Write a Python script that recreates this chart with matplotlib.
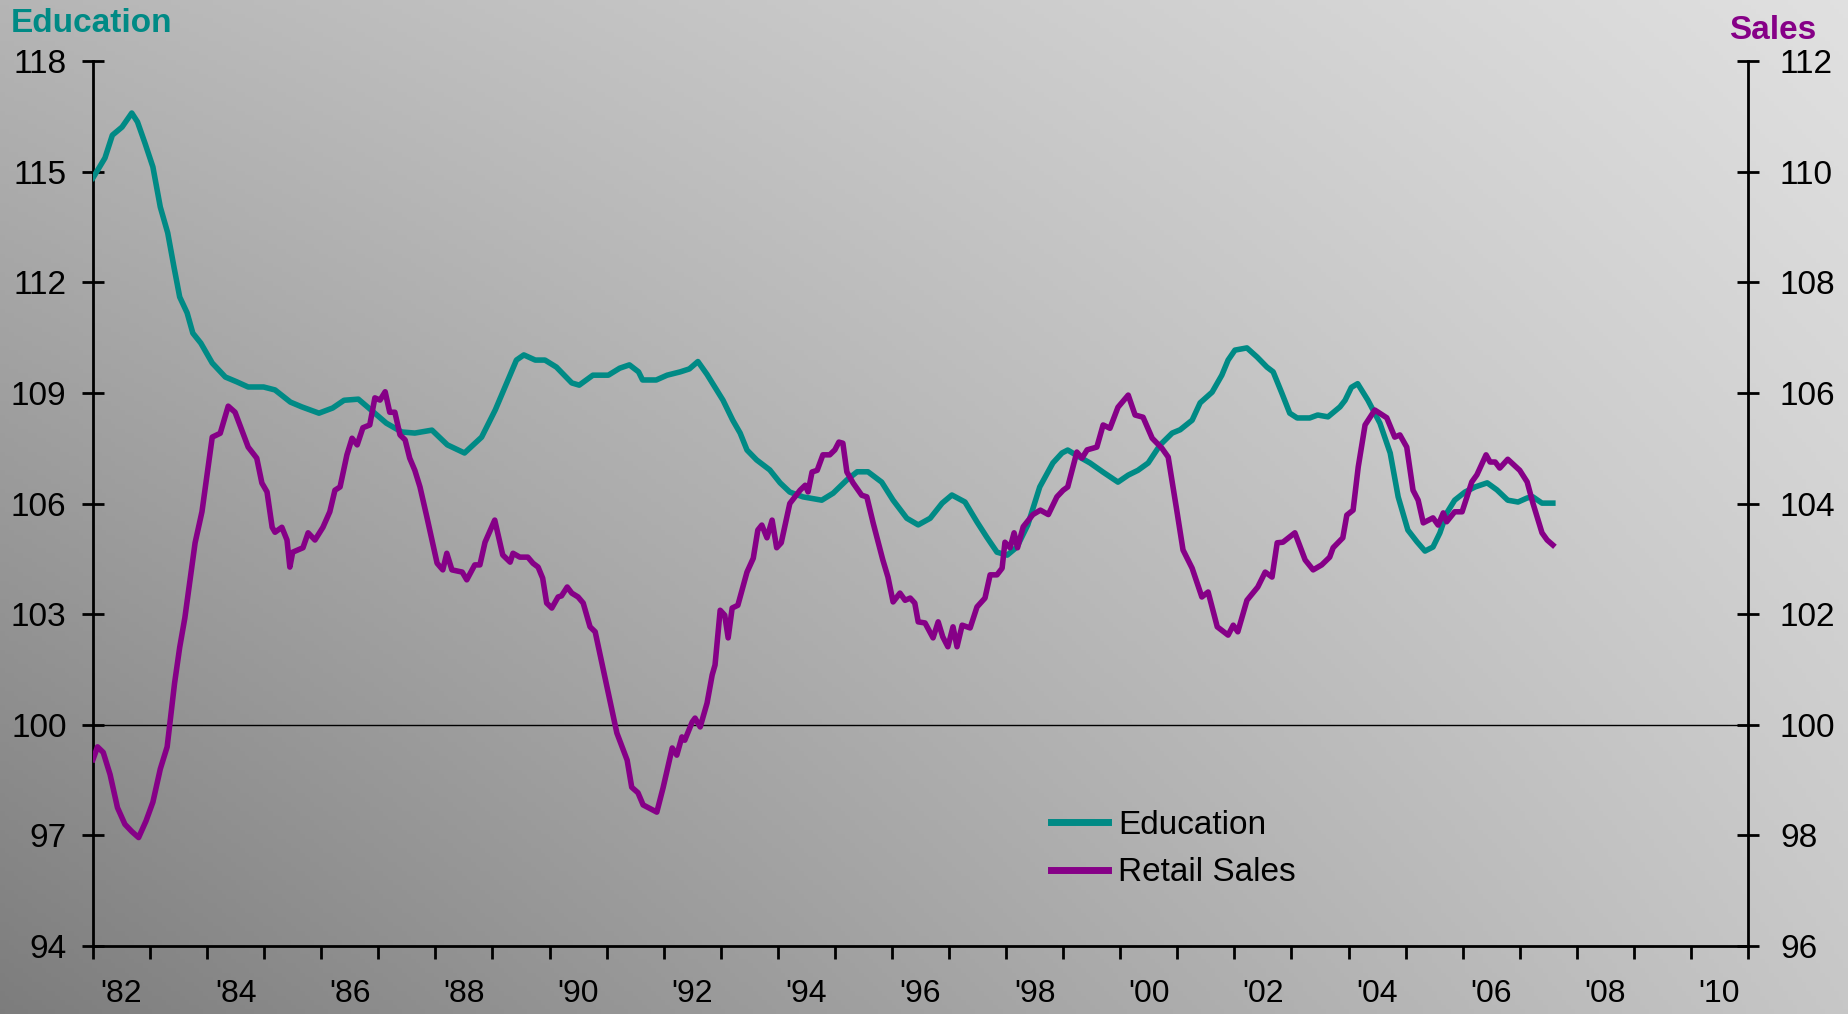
import numpy as np
import matplotlib.pyplot as plt

# Education index (left axis): decimal year, index value
edu_x = [1982.0, 1982.21, 1982.34, 1982.51, 1982.68, 1982.78, 1982.91, 1983.05, 1983.18, 1983.31,
         1983.42, 1983.52, 1983.65, 1983.75, 1983.89, 1984.09, 1984.32, 1984.52, 1984.72, 1984.99,
         1985.19, 1985.46, 1985.66, 1985.96, 1986.2, 1986.4, 1986.65, 1986.87, 1987.14, 1987.41,
         1987.64, 1987.94, 1988.21, 1988.51, 1988.81, 1989.05, 1989.22, 1989.42, 1989.55, 1989.75,
         1989.92, 1990.12, 1990.39, 1990.52, 1990.76, 1991.03, 1991.23, 1991.4, 1991.56, 1991.63,
         1991.87, 1992.06, 1992.29, 1992.45, 1992.6, 1992.76, 1993.04, 1993.21, 1993.34, 1993.46,
         1993.63, 1993.86, 1994.04, 1994.21, 1994.44, 1994.77, 1994.97, 1995.21, 1995.39, 1995.58,
         1995.82, 1996.02, 1996.26, 1996.46, 1996.67, 1996.88, 1997.05, 1997.28, 1997.49, 1997.66,
         1997.84, 1998.02, 1998.19, 1998.38, 1998.59, 1998.82, 1998.98, 1999.08, 1999.24, 1999.47,
         1999.7, 1999.96, 2000.14, 2000.31, 2000.49, 2000.7, 2000.91, 2001.05, 2001.26, 2001.4,
         2001.61, 2001.78, 2001.89, 2002.01, 2002.22, 2002.4, 2002.57, 2002.68, 2002.83, 2002.97,
         2003.1, 2003.32, 2003.46, 2003.64, 2003.85, 2003.94, 2004.05, 2004.16, 2004.34, 2004.55,
         2004.73, 2004.87, 2005.04, 2005.2, 2005.34, 2005.48, 2005.6, 2005.72, 2005.86, 2006.04,
         2006.22, 2006.43, 2006.6, 2006.79, 2006.97, 2007.13, 2007.23, 2007.39, 2007.58]
edu_y = [114.83, 115.37, 115.99, 116.21, 116.59, 116.35, 115.78, 115.13, 114.04, 113.34,
         112.41, 111.6, 111.17, 110.62, 110.35, 109.81, 109.43, 109.3, 109.16, 109.16,
         109.08, 108.75, 108.62, 108.45, 108.59, 108.8, 108.83, 108.54, 108.18, 107.94,
         107.91, 107.99, 107.59, 107.37, 107.8, 108.54, 109.16, 109.89, 110.03, 109.89,
         109.89, 109.7, 109.27, 109.21, 109.48, 109.48, 109.67, 109.76, 109.57, 109.35,
         109.35, 109.48, 109.57, 109.65, 109.85, 109.5, 108.8, 108.26, 107.91, 107.45,
         107.18, 106.91, 106.56, 106.31, 106.18, 106.09, 106.28, 106.64, 106.86, 106.86,
         106.58, 106.09, 105.6, 105.42, 105.6, 106.01, 106.23, 106.04, 105.5, 105.09,
         104.68, 104.6, 104.82, 105.42, 106.45, 107.1, 107.37, 107.45, 107.3, 107.1,
         106.85, 106.58, 106.77, 106.9, 107.1, 107.59, 107.91, 108.0, 108.26, 108.73,
         109.02, 109.48, 109.89, 110.16, 110.22, 109.97, 109.7, 109.57, 109.0, 108.45,
         108.32, 108.32, 108.4, 108.35, 108.62, 108.8, 109.15, 109.25, 108.8, 108.18,
         107.37, 106.18, 105.28, 104.96, 104.71, 104.82, 105.2, 105.74, 106.09, 106.31,
         106.45, 106.56, 106.37, 106.09, 106.04, 106.15, 106.18, 106.01, 106.01]

# Retail sales index (right axis)
sales_x = [1982.0, 1982.08, 1982.18, 1982.3, 1982.43, 1982.56, 1982.68, 1982.8, 1982.93, 1983.05,
           1983.18, 1983.3, 1983.43, 1983.52, 1983.61, 1983.79, 1983.91, 1984.09, 1984.23, 1984.37,
           1984.49, 1984.72, 1984.87, 1984.96, 1985.05, 1985.14, 1985.19, 1985.31, 1985.4, 1985.45,
           1985.5, 1985.68, 1985.77, 1985.89, 1986.03, 1986.15, 1986.24, 1986.33, 1986.45, 1986.54,
           1986.63, 1986.73, 1986.85, 1986.94, 1987.03, 1987.12, 1987.2, 1987.29, 1987.38, 1987.47,
           1987.55, 1987.64, 1987.73, 1987.85, 1988.03, 1988.13, 1988.2, 1988.29, 1988.47, 1988.55,
           1988.69, 1988.78, 1988.87, 1989.04, 1989.18, 1989.31, 1989.36, 1989.48, 1989.62, 1989.71,
           1989.8, 1989.88, 1989.95, 1990.04, 1990.15, 1990.21, 1990.31, 1990.39, 1990.5, 1990.59,
           1990.71, 1990.8, 1990.97, 1991.18, 1991.36, 1991.44, 1991.55, 1991.64, 1991.88, 1991.99,
           1992.15, 1992.23, 1992.32, 1992.37, 1992.5, 1992.55, 1992.64, 1992.76, 1992.85, 1992.9,
           1992.99, 1993.07, 1993.13, 1993.2, 1993.3, 1993.46, 1993.57, 1993.65, 1993.72, 1993.81,
           1993.9, 1993.98, 1994.06, 1994.21, 1994.39, 1994.48, 1994.53, 1994.6, 1994.69, 1994.79,
           1994.91, 1995.0, 1995.07, 1995.14, 1995.21, 1995.32, 1995.47, 1995.56, 1995.67, 1995.84,
           1995.93, 1996.02, 1996.14, 1996.23, 1996.32, 1996.4, 1996.46, 1996.58, 1996.72, 1996.81,
           1996.89, 1996.98, 1997.07, 1997.14, 1997.23, 1997.37, 1997.49, 1997.63, 1997.72, 1997.84,
           1997.93, 1997.98, 1998.07, 1998.14, 1998.2, 1998.3, 1998.47, 1998.6, 1998.74, 1998.89,
           1999.0, 1999.08, 1999.24, 1999.33, 1999.42, 1999.59, 1999.7, 1999.82, 1999.96, 2000.14,
           2000.26, 2000.4, 2000.56, 2000.73, 2000.84, 2000.99, 2001.1, 2001.26, 2001.43, 2001.54,
           2001.7, 2001.89, 2001.98, 2002.06, 2002.22, 2002.41, 2002.54, 2002.66, 2002.75, 2002.85,
           2003.06, 2003.24, 2003.38, 2003.53, 2003.67, 2003.73, 2003.9, 2003.97, 2004.08, 2004.17,
           2004.29, 2004.46, 2004.67, 2004.81, 2004.9, 2005.02, 2005.13, 2005.22, 2005.31, 2005.48,
           2005.57, 2005.66, 2005.72, 2005.86, 2005.99, 2006.16, 2006.25, 2006.41, 2006.48, 2006.57,
           2006.65, 2006.79, 2007.0, 2007.13, 2007.23, 2007.39, 2007.48, 2007.58]
sales_y = [99.37, 99.6, 99.5, 99.1, 98.5, 98.2, 98.07, 97.96, 98.26, 98.6,
           99.2, 99.6, 100.75, 101.4, 101.93, 103.29, 103.85, 105.2, 105.27, 105.76,
           105.65, 105.02, 104.82, 104.37, 104.21, 103.57, 103.48, 103.57, 103.34, 102.85,
           103.12, 103.2, 103.47, 103.34, 103.57, 103.85, 104.24, 104.3, 104.88, 105.18,
           105.06, 105.37, 105.42, 105.91, 105.87, 106.02, 105.65, 105.65, 105.24, 105.15,
           104.82, 104.6, 104.3, 103.76, 102.92, 102.8, 103.1, 102.8, 102.76, 102.62,
           102.89, 102.89, 103.3, 103.7, 103.07, 102.94, 103.1, 103.03, 103.03, 102.92,
           102.85, 102.65, 102.2, 102.11, 102.31, 102.33, 102.49, 102.38, 102.31, 102.2,
           101.77, 101.68, 100.86, 99.85, 99.36, 98.87, 98.77, 98.55, 98.42, 98.86,
           99.58, 99.45, 99.78, 99.72, 100.05, 100.12, 99.96, 100.39, 100.9, 101.08,
           102.07, 101.98, 101.57, 102.11, 102.16, 102.76, 103.01, 103.52, 103.61, 103.38,
           103.7, 103.2, 103.29, 104.0, 104.24, 104.33, 104.21, 104.57, 104.6, 104.88,
           104.88, 104.97, 105.11, 105.09, 104.57, 104.37, 104.15, 104.12, 103.65, 102.98,
           102.67, 102.22, 102.38, 102.25, 102.29, 102.2, 101.86, 101.84, 101.57, 101.86,
           101.59, 101.41, 101.77, 101.41, 101.8, 101.75, 102.13, 102.29, 102.71, 102.71,
           102.83, 103.3, 103.2, 103.47, 103.2, 103.58, 103.8, 103.88, 103.8, 104.12,
           104.24, 104.3, 104.93, 104.82, 104.97, 105.02, 105.42, 105.36, 105.74, 105.96,
           105.6, 105.56, 105.18, 105.0, 104.84, 103.88, 103.16, 102.83, 102.31, 102.4,
           101.77, 101.62, 101.8, 101.68, 102.25, 102.49, 102.76, 102.67, 103.29, 103.3,
           103.47, 102.98, 102.8, 102.89, 103.03, 103.2, 103.38, 103.79, 103.88, 104.66,
           105.42, 105.69, 105.55, 105.2, 105.24, 105.02, 104.24, 104.06, 103.65, 103.74,
           103.61, 103.83, 103.67, 103.85, 103.85, 104.39, 104.52, 104.88, 104.75, 104.75,
           104.64, 104.8, 104.6, 104.39, 104.01, 103.47, 103.34, 103.25]

years = np.arange(1982, 2012)
label_years = np.arange(1982, 2011, 2)
left_ticks = [94, 97, 100, 103, 106, 109, 112, 115, 118]
right_ticks = [96, 98, 100, 102, 104, 106, 108, 110, 112]

teal = "#008a85"
purple = "#860087"

plt.rcParams['font.family'] = ['Liberation Sans', 'DejaVu Sans']

fig = plt.figure(figsize=(18.48, 10.14), dpi=100)

# diagonal grey gradient behind everything
bg = fig.add_axes([0, 0, 1, 1], zorder=-10)
gx, gy = np.meshgrid(np.linspace(0, 1, 400), np.linspace(0, 1, 220))
c_bl, c_br, c_tl, c_tr = 0.49, 0.78, 0.71, 0.88
shade = (c_bl * (1 - gx) * (1 - gy) + c_br * gx * (1 - gy)
         + c_tl * (1 - gx) * gy + c_tr * gx * gy)
bg.imshow(np.dstack([shade] * 3), origin='lower', aspect='auto', extent=[0, 1, 0, 1])
bg.axis('off')

ax = fig.add_axes([0.0503, 0.0671, 0.8956, 0.8727])
ax.patch.set_alpha(0)
ax2 = ax.twinx()

ax.axhline(100, color='black', lw=1.0, zorder=1)
l1, = ax.plot(edu_x, edu_y, color=teal, lw=4.0, solid_joinstyle='round', zorder=3)
l2, = ax2.plot(sales_x, sales_y, color=purple, lw=4.0, solid_joinstyle='round', zorder=3)

ax.set_xlim(1982, 2011)
ax.set_ylim(94, 118)
ax2.set_ylim(96, 112)
ax.set_yticks(left_ticks)
ax2.set_yticks(right_ticks)

ax.set_xticks(years)
ax.set_xticklabels([])
ax.set_xticks(label_years + 0.5, minor=True)
ax.set_xticklabels(["'%02d" % (y % 100) for y in label_years], minor=True)
ax.tick_params(axis='x', which='major', direction='out', length=9, width=2)
ax.tick_params(axis='x', which='minor', length=0, pad=24, labelsize=23)
ax.tick_params(axis='y', direction='inout', length=16, width=2, pad=11, labelsize=24)
ax2.tick_params(axis='y', direction='inout', length=16, width=2, pad=15, labelsize=24)

for a in (ax, ax2):
    a.spines['top'].set_visible(False)
    for s in ('left', 'right', 'bottom'):
        a.spines[s].set_linewidth(2)
ax.spines['right'].set_visible(False)
ax2.spines['left'].set_visible(False)
ax2.spines['bottom'].set_visible(False)

fig.text(0.006, 0.968, "Education", color=teal, fontsize=24, fontweight='bold', va='baseline')
fig.text(0.983, 0.962, "Sales", color=purple, fontsize=24, fontweight='bold', va='baseline', ha='right')

leg = ax.legend([l1, l2], ["Education", "Retail Sales"], loc='upper left',
                bbox_to_anchor=(0.561, 0.188), frameon=False, fontsize=24,
                handlelength=1.7, handletextpad=0.3, labelspacing=0.5)
for h in leg.legend_handles:
    h.set_linewidth(5)

fig.savefig("out.png", dpi=100)
